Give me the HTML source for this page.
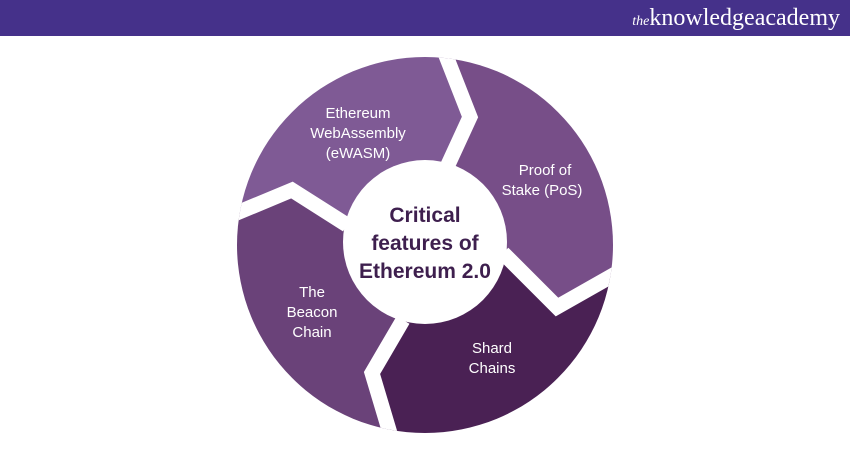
<!DOCTYPE html>
<html><head><style>
body{margin:0;width:850px;height:450px;background:#fff;overflow:hidden;font-family:"Liberation Sans",sans-serif;}
.bar{position:absolute;left:0;top:0;width:850px;height:36px;background:#45318a;}
.logo{position:absolute;right:10px;top:5px;color:#fff;font-family:"Liberation Serif",serif;font-size:24px;}
.logo i{font-size:14px;}
</style></head><body>
<div class="bar"><div class="logo"><i>the</i>knowledgeacademy</div></div>
<svg width="850" height="450" style="position:absolute;left:0;top:0">
<defs><clipPath id="c"><circle cx="425" cy="245" r="188"/></clipPath></defs>
<g clip-path="url(#c)">
<polygon fill="#7f5a95" points="425,240 447,167 470,117 432,20 220,20 220,220 292,190 347,225"/>
<polygon fill="#774e88" points="425,240 447,167 470,117 432,20 640,20 640,260 557,307 503,253"/>
<polygon fill="#4a2154" points="425,240 503,253 557,307 640,260 640,450 395,450 372,373 403,320"/>
<polygon fill="#6a4279" points="425,240 403,320 372,373 395,450 220,450 220,220 292,190 347,225"/>
<g fill="none" stroke="#fff" stroke-width="15" stroke-linejoin="miter">
<polyline points="447,167 470,117 432,20"/>
<polyline points="503,253 557,307 640,260"/>
<polyline points="403,320 372,373 395,450"/>
<polyline points="347,225 292,190 220,220"/>
</g>
</g>
<circle cx="425" cy="242" r="82" fill="#fff"/>
<g fill="#fff" font-family="Liberation Sans,sans-serif" font-size="15" text-anchor="middle">
<text x="358" y="118">Ethereum</text>
<text x="358" y="138">WebAssembly</text>
<text x="358" y="158">(eWASM)</text>
<text x="545" y="175">Proof of</text>
<text x="542" y="195">Stake (PoS)</text>
<text x="312" y="297">The</text>
<text x="312" y="317">Beacon</text>
<text x="312" y="337">Chain</text>
<text x="492" y="353">Shard</text>
<text x="492" y="373">Chains</text>
</g>
<g fill="#3e1f4e" font-family="Liberation Sans,sans-serif" font-size="21" font-weight="bold" text-anchor="middle">
<text x="425" y="222">Critical</text>
<text x="425" y="250">features of</text>
<text x="425" y="278">Ethereum 2.0</text>
</g>
</svg>
</body></html>
